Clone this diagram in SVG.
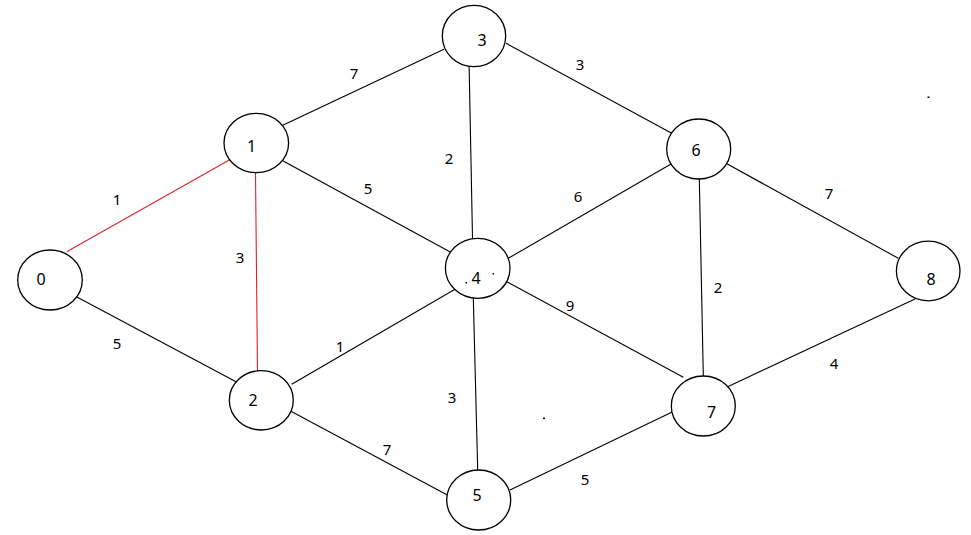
<svg xmlns="http://www.w3.org/2000/svg" width="971" height="535" viewBox="0 0 971 535">
<style>
.n ellipse{fill:#fff;stroke:#000;stroke-width:1.3}
.t{font-family:"Noto Sans","Liberation Sans",sans-serif;font-size:16px;fill:#000;text-anchor:middle;dominant-baseline:central}
.e line{stroke:#000;stroke-width:1.1}
.e line.r{stroke:#e0202a}
.l{font-family:"Noto Sans","Liberation Sans",sans-serif;font-size:15px;fill:#000;text-anchor:middle;dominant-baseline:central}
</style>
<rect width="971" height="535" fill="#fff"/>
<g id="edges" class="e">
<line class="r" x1="66.7" y1="251.7" x2="231" y2="159"/>
<line class="r" x1="255.5" y1="172.7" x2="257.5" y2="372"/>
<line x1="75" y1="296" x2="236" y2="381.7"/>
<line x1="281.7" y1="125.7" x2="444" y2="49.3"/>
<line x1="282.7" y1="160.7" x2="450.7" y2="252.3"/>
<line x1="469" y1="60" x2="472.5" y2="238.3"/>
<line x1="506" y1="43.3" x2="671.7" y2="133.3"/>
<line x1="291.7" y1="384.3" x2="455" y2="289.3"/>
<line x1="290" y1="410.7" x2="447.3" y2="495"/>
<line x1="473.3" y1="297.7" x2="477.7" y2="470"/>
<line x1="508.3" y1="258.3" x2="671" y2="164"/>
<line x1="506.7" y1="281.7" x2="683.3" y2="377.3"/>
<line x1="699.3" y1="178.3" x2="703.3" y2="376"/>
<line x1="726" y1="163.3" x2="898.3" y2="258.3"/>
<line x1="510" y1="490" x2="672.7" y2="411.7"/>
<line x1="727.7" y1="386.7" x2="915" y2="299"/>
</g>
<g id="edge-labels">
<text class="l" x="117" y="199">1</text>
<text class="l" x="240" y="257">3</text>
<text class="l" x="117" y="343">5</text>
<text class="l" x="354" y="73">7</text>
<text class="l" x="368" y="188">5</text>
<text class="l" x="449" y="158">2</text>
<text class="l" x="340" y="346">1</text>
<text class="l" x="452" y="397">3</text>
<text class="l" x="387" y="449">7</text>
<text class="l" x="580" y="64">3</text>
<text class="l" x="578" y="196">6</text>
<text class="l" x="570" y="305">9</text>
<text class="l" x="718" y="287">2</text>
<text class="l" x="829" y="193">7</text>
<text class="l" x="834" y="363">4</text>
<text class="l" x="585" y="479">5</text>
</g>
<g id="node0" class="n"><ellipse cx="50" cy="280" rx="32.3" ry="30"/><text class="t" x="41" y="279">0</text></g>
<g id="node1" class="n"><ellipse cx="256.3" cy="143" rx="32.3" ry="29.7"/><text class="t" x="251.5" y="145.5">1</text></g>
<g id="node2" class="n"><ellipse cx="261.3" cy="400.3" rx="32" ry="29.7"/><text class="t" x="253" y="400">2</text></g>
<g id="node3" class="n"><ellipse cx="474" cy="36" rx="31.7" ry="30.7"/><text class="t" x="482" y="40">3</text></g>
<g id="node4" class="n"><ellipse cx="477.7" cy="268.3" rx="32.3" ry="30"/><text class="t" x="476" y="278">4</text></g>
<g id="node5" class="n"><ellipse cx="478.7" cy="500" rx="32" ry="30"/><text class="t" x="477" y="495">5</text></g>
<g id="node6" class="n"><ellipse cx="698.7" cy="149" rx="32" ry="30"/><text class="t" x="696" y="150">6</text></g>
<g id="node7" class="n"><ellipse cx="703.3" cy="406" rx="32" ry="30"/><text class="t" x="711.5" y="411.5">7</text></g>
<g id="node8" class="n"><ellipse cx="928.2" cy="271" rx="31.8" ry="29.8"/><text class="t" x="931" y="279">8</text></g>
<g id="specks" fill="#000">
<rect x="927.5" y="96.5" width="2" height="1.5"/>
<rect x="543" y="417.5" width="2" height="1.5"/>
<rect x="465.5" y="282" width="1.5" height="1.5"/>
<rect x="492.5" y="273" width="1.5" height="1.5"/>
</g>
</svg>
